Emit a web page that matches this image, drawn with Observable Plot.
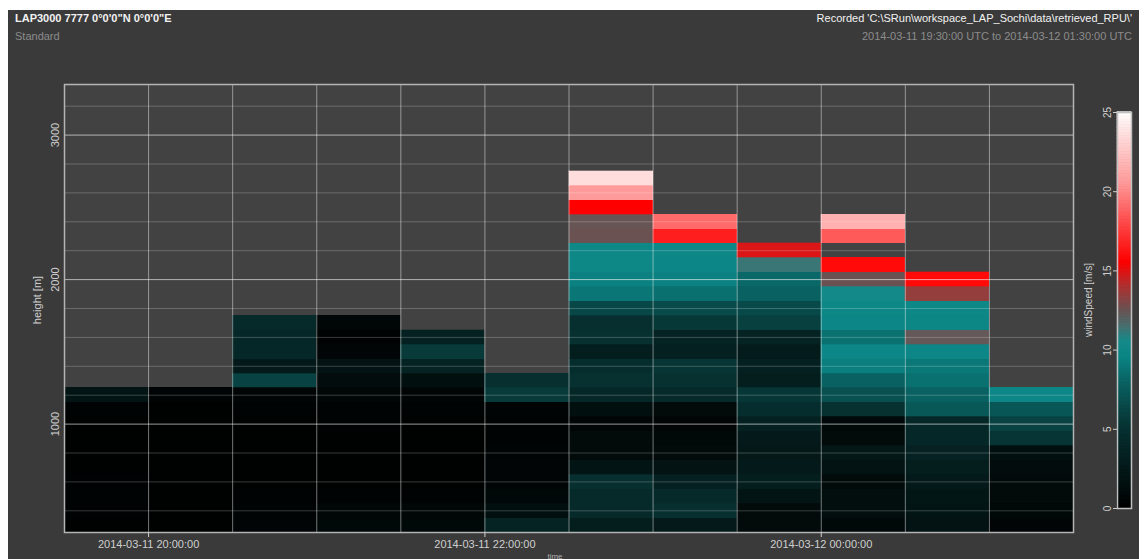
<!DOCTYPE html>
<html>
<head>
<meta charset="utf-8">
<script src="https://cdn.jsdelivr.net/npm/d3@7"></script>
<script src="https://cdn.jsdelivr.net/npm/@observablehq/plot@0.6"></script>
<style>
  html, body { margin: 0; padding: 0; background: #fff; }
  body { width: 1145px; height: 559px; position: relative; overflow: hidden;
         font-family: "Liberation Sans", Arial, sans-serif; }
  #panel { position: absolute; left: 8px; top: 10px; width: 1131px; height: 549px; background: #3a3a3a; }
  .t { position: absolute; font-size: 11px; line-height: 13px; white-space: nowrap; }
  .hi { color: #f2f2f2; }
  .lo { color: #8c8c8c; }
  .rot { transform: translate(-50%, -50%) rotate(-90deg); color: #cfcfcf; }
  #main { position: absolute; left: 0; top: 60px; }
  #bar { position: absolute; left: 1075px; top: 95px; }
</style>
</head>
<body>
<div id="panel"></div>
<div class="t hi" style="left:15px; top:12px; font-weight:bold;">LAP3000 7777 0°0'0"N 0°0'0"E</div>
<div class="t lo" style="left:15px; top:30px;">Standard</div>
<div class="t hi" style="right:13px; top:12px;">Recorded 'C:\SRun\workspace_LAP_Sochi\data\retrieved_RPU\'</div>
<div class="t lo" style="right:13px; top:30px;">2014-03-11 19:30:00 UTC to 2014-03-12 01:30:00 UTC</div>
<div class="t rot" style="left:37px; top:300px;">height [m]</div>
<div class="t rot" style="left:1088px; top:300px; font-size:10px;">windSpeed [m/s]</div>
<div class="t" style="left:555px; top:550px; font-size:8px; color:#b0b0b0; transform:translateX(-50%);">time</div>
<div id="main"></div>
<div id="bar"></div>
<script>
// Start of each 30-minute profile average
const columnStarts = [
  "2014-03-11T19:30:00Z", "2014-03-11T20:00:00Z", "2014-03-11T20:30:00Z", "2014-03-11T21:00:00Z",
  "2014-03-11T21:30:00Z", "2014-03-11T22:00:00Z", "2014-03-11T22:30:00Z", "2014-03-11T23:00:00Z",
  "2014-03-11T23:30:00Z", "2014-03-12T00:00:00Z", "2014-03-12T00:30:00Z", "2014-03-12T01:00:00Z"
];

// Range gate centre heights [m]
const gateHeights = [300, 400, 500, 600, 700, 800, 900, 1000, 1100, 1200, 1300, 1400, 1500,
                     1600, 1700, 1800, 1900, 2000, 2100, 2200, 2300, 2400, 2500, 2600, 2700];

// Wind speed [m/s] per profile, from the lowest gate upwards (null = no valid retrieval)
const ws1930 = [0.2, 0.3, 0.3, 0.3, 0.2, 0.2, 0.2, 0.2, 0.3, 2.0];
const ws2000 = [0.2, 0.2, 0.2, 0.2, 0.2, 0.2, 0.2, 0.2, 0.2, 0.4];
const ws2030 = [0.5, 0.4, 0.3, 0.2, 0.2, 0.2, 0.2, 0.2, 0.3, 0.5, 6.0, 2.5, 4.0, 4.0, 4.3];
const ws2100 = [0.8, 0.6, 0.3, 0.2, 0.2, 0.2, 0.2, 0.3, 0.3, 0.6, 1.2, 1.8, 0.5, 0.3, 0.6];
const ws2130 = [0.8, 0.6, 0.3, 0.2, 0.2, 0.2, 0.2, 0.2, 0.3, 0.5, 1.5, 3.5, 5.5, 3.2];
const ws2200 = [3.5, 1.5, 0.8, 0.5, 0.5, 0.4, 0.3, 0.3, 0.4, 5.5, 4.8];
const ws2230 = [3.0, 4.3, 4.3, 4.8, 2.0, 1.0, 1.0, 0.5, 1.5, 4.0, 5.0, 4.6, 3.0, 5.0, 4.8,
                6.3, 8.8, 9.3, 9.8, 9.8, 12.5, 12.4, 15.5, 20.5, 23.5];
const ws2300 = [2.5, 4.8, 4.3, 3.2, 1.8, 1.0, 0.8, 0.5, 1.0, 4.3, 5.0, 5.2, 3.2, 3.5, 5.4,
                6.5, 8.5, 9.3, 9.6, 9.8, 16.5, 19.0];
const ws2330 = [1.0, 1.0, 2.0, 3.0, 2.5, 2.4, 2.6, 3.2, 4.6, 5.3, 3.0, 3.2, 2.7, 3.6, 5.8,
                6.4, 7.8, 8.2, 11.2, 14.8];
const ws0000 = [0.8, 1.3, 1.3, 1.0, 1.8, 2.3, 1.0, 0.8, 5.0, 6.8, 7.8, 9.2, 9.6, 8.6, 9.6,
                9.8, 10.3, 12.5, 15.8, null, 18.5, 21.5];
const ws0030 = [1.8, 2.0, 2.2, 2.5, 3.0, 3.3, 4.0, 4.0, 7.3, 7.8, 8.6, 8.9, 9.6, 12.3, 9.7,
                9.8, 13.4, 15.8];
const ws0100 = [0.5, 0.8, 1.0, 1.0, 1.2, 1.5, 5.2, 6.0, 7.2, 9.6];
const windProfiles = [ws1930, ws2000, ws2030, ws2100, ws2130, ws2200,
                      ws2230, ws2300, ws2330, ws0000, ws0030, ws0100];

// Axis ticks and grid
const timeDomain = ["2014-03-11T19:30:00Z", "2014-03-12T01:30:00Z"];
const timeTicks = ["2014-03-11T20:00:00Z", "2014-03-11T22:00:00Z", "2014-03-12T00:00:00Z"];
const timeGrid = ["2014-03-11T20:00:00Z", "2014-03-11T20:30:00Z", "2014-03-11T21:00:00Z",
                  "2014-03-11T21:30:00Z", "2014-03-11T22:00:00Z", "2014-03-11T22:30:00Z",
                  "2014-03-11T23:00:00Z", "2014-03-11T23:30:00Z", "2014-03-12T00:00:00Z",
                  "2014-03-12T00:30:00Z", "2014-03-12T01:00:00Z"];
const heightDomain = [250, 3350];
const heightTicks = [1000, 2000, 3000];
const heightGridMinor = [400, 600, 800, 1200, 1400, 1600, 1800, 2200, 2400, 2600, 2800, 3200];
const speedDomain = [0, 25];
const speedTicks = [0, 5, 10, 15, 20, 25];

// Colour map: black -> teal -> grey -> red -> white
const speedStops  = [0, 2, 5, 8, 9.5, 10.5, 11.5, 12.5, 14, 15.5, 18, 20.5, 23, 25];
const speedColors = ["#000000", "#031414", "#073131", "#0a6464", "#0b8585", "#158a8a", "#4a6e6e",
                     "#6a5252", "#b03030", "#ff0000", "#ff4a4a", "#ff9a9a", "#ffd2d2", "#ffffff"];

const parse = s => new Date(s);
const halfHour = 30 * 60 * 1000;
const gateHalf = 50;

const cells = [];
windProfiles.forEach((profile, i) => {
  const t0 = parse(columnStarts[i]);
  profile.forEach((v, j) => {
    if (v == null) return;
    cells.push({t0, t1: new Date(+t0 + halfHour), h0: gateHeights[j] - gateHalf, h1: gateHeights[j] + gateHalf, v});
  });
});

const colorScale = {type: "linear", domain: speedStops, range: speedColors, interpolate: "rgb", clamp: true};
const tickColor = "#cfcfcf";

const main = Plot.plot({
  width: 1145,
  height: 499,
  marginLeft: 64,
  marginRight: 72,
  marginTop: 24,
  marginBottom: 27,
  style: {background: "transparent", fontFamily: "Liberation Sans, Arial, sans-serif"},
  x: {type: "utc", domain: timeDomain.map(parse)},
  y: {domain: heightDomain},
  color: colorScale,
  marks: [
    Plot.frame({fill: "#424242"}),
    Plot.rect(cells, {x1: "t0", x2: "t1", y1: "h0", y2: "h1", fill: "v", stroke: "v", strokeWidth: 0.3, shapeRendering: "crispEdges"}),
    Plot.ruleY(heightGridMinor, {stroke: "#ffffff", strokeOpacity: 0.22}),
    Plot.ruleY(heightTicks, {stroke: "#ffffff", strokeOpacity: 0.6}),
    Plot.ruleX(timeGrid.map(parse), {stroke: "#ffffff", strokeOpacity: 0.45}),
    Plot.frame({stroke: "#b4b4b4", strokeWidth: 1.5}),
    Plot.axisX({ticks: timeTicks.map(parse), tickFormat: d3.utcFormat("%Y-%m-%d %H:%M:%S"),
                tickSize: 5, tickPadding: 3, fontSize: 11, color: tickColor, label: null}),
    Plot.axisY({ticks: heightTicks, tickFormat: d3.format("d"), tickRotate: -90, tickSize: 0, tickPadding: 6,
                fontSize: 11, color: tickColor, label: null})
  ]
});
document.getElementById("main").append(main);

// Colour bar for windSpeed
const ramp = d3.range(0, 25, 0.1);
const bar = Plot.plot({
  width: 65,
  height: 430,
  marginLeft: 42,
  marginRight: 9,
  marginTop: 17,
  marginBottom: 17,
  style: {background: "transparent", fontFamily: "Liberation Sans, Arial, sans-serif"},
  y: {domain: speedDomain},
  color: colorScale,
  marks: [
    Plot.rect(ramp, {y1: d => d, y2: d => d + 0.12, fill: d => d, stroke: d => d, strokeWidth: 0.5}),
    Plot.frame({stroke: "#c0c0c0", strokeWidth: 1.5}),
    Plot.axisY({ticks: speedTicks, tickFormat: d3.format("d"), tickRotate: -90, tickSize: 4, tickPadding: 3,
                fontSize: 10, color: tickColor, label: null})
  ]
});
document.getElementById("bar").append(bar);
</script>
</body>
</html>
